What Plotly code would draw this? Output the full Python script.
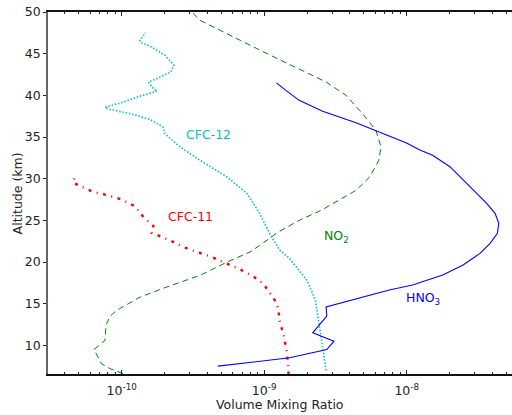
import plotly.graph_objects as go

# ---------------- data ----------------
hno3_alt = [7.5, 8.5, 9.5, 10.5, 11.5, 13.5, 14.6, 15.6, 16.64, 17.24, 18.44, 19.64, 21.04,
            22.24, 23.44, 24.64, 25.84, 27.04, 29.84, 31.44, 32.8, 33.44, 34.3, 35.8, 36.7,
            38.1, 39.4, 40.6, 41.5]
hno3_vmr = [4.73e-10, 1.51e-9, 2.75e-9, 3.09e-9, 2.19e-9, 2.75e-9, 2.72e-9, 4.41e-9, 7.55e-9,
            1.10e-8, 1.79e-8, 2.49e-8, 3.27e-8, 3.85e-8, 4.33e-8, 4.43e-8, 4.17e-8, 3.64e-8,
            2.49e-8, 2.01e-8, 1.52e-8, 1.24e-8, 9.89e-9, 6.03e-9, 4.41e-9, 2.57e-9, 1.76e-9,
            1.42e-9, 1.22e-9]

no2_alt = [6.6, 7.2, 7.8, 9.5, 10.6, 12.4, 13.5, 14.2, 15.8, 17.0, 18.4, 20.0, 21.2, 22.0,
           23.5, 25.0, 26.2, 27.2, 28.6, 30.2, 32.2, 33.8, 35.8, 37.8, 40.0, 41.6, 43.0, 44.4,
           45.6, 47.3, 49.0, 50.0]
no2_vmr = [1.02e-10, 8.3e-11, 7.2e-11, 6.4e-11, 7.64e-11, 7.76e-11, 8.28e-11, 9.23e-11, 1.35e-10,
           2.07e-10, 3.55e-10, 5.50e-10, 7.94e-10, 9.33e-10, 1.23e-9, 1.76e-9, 2.51e-9, 3.19e-9,
           4.41e-9, 5.50e-9, 6.37e-9, 6.61e-9, 6.08e-9, 4.90e-9, 3.75e-9, 2.72e-9, 1.86e-9,
           1.24e-9, 8.91e-10, 5.6e-10, 3.55e-10, 3.10e-10]

cfc12_alt = [7.0, 9.8, 12.6, 15.4, 17.8, 20.4, 21.4, 23.3, 25.8, 28.2, 30.2, 32.2, 33.8, 35.4,
             36.2, 37.1, 37.8, 38.3, 38.56, 39.2, 39.9, 40.5, 40.8, 41.6, 42.0, 42.8, 43.6, 44.8,
             45.8, 46.4, 46.6, 47.5]
cfc12_vmr = [2.72e-9, 2.57e-9, 2.44e-9, 2.29e-9, 2.00e-9, 1.51e-9, 1.29e-9, 1.10e-9, 9.33e-10,
             7.59e-10, 5.50e-10, 3.55e-10, 2.57e-10, 2.01e-10, 1.95e-10, 1.58e-10, 1.15e-10,
             8.3e-11, 7.64e-11, 1.03e-10, 1.34e-10, 1.78e-10, 1.67e-10, 1.54e-10, 1.76e-10,
             2.21e-10, 2.33e-10, 2.01e-10, 1.62e-10, 1.35e-10, 1.34e-10, 1.47e-10]

cfc11_alt = [6.5, 7.4, 9.2, 11.0, 13.0, 14.3, 15.2, 16.2, 17.4, 18.4, 19.2, 19.9, 20.6, 21.2,
             21.8, 22.6, 23.2, 23.5, 24.3, 25.4, 26.7, 27.5, 28.0, 28.4, 29.1, 29.5, 30.4]
cfc11_vmr = [1.48e-9, 1.48e-9, 1.44e-9, 1.38e-9, 1.28e-9, 1.26e-9, 1.21e-9, 1.10e-9, 9.86e-10,
             8.17e-10, 6.61e-10, 5.31e-10, 4.29e-10, 3.36e-10, 2.70e-10, 2.19e-10, 1.76e-10,
             1.62e-10, 1.67e-10, 1.42e-10, 1.24e-10, 1.00e-10, 8.05e-11, 6.31e-11, 5.13e-11,
             4.57e-11, 4.70e-11]

x_tick_vals = [1e-10, 1e-9, 1e-8]
x_tick_text = ["10<sup>-10</sup>", "10<sup>-9</sup>", "10<sup>-8</sup>"]
y_tick_vals = [10, 15, 20, 25, 30, 35, 40, 45, 50]

minor_vals = [m * 10.0 ** e for e in (-11, -10, -9, -8) for m in range(2, 10)]

# ---------------- figure ----------------
FONT = "DejaVu Sans"
FS = 12.5
fig = go.Figure()
fig.add_trace(go.Scatter(x=no2_vmr, y=no2_alt, mode="lines",
                         line=dict(color="#008000", width=1, dash="6px,4px")))
fig.add_trace(go.Scatter(x=cfc12_vmr, y=cfc12_alt, mode="lines",
                         line=dict(color="#00bfbf", width=1.6, dash="1.5px,1.8px")))
fig.add_trace(go.Scatter(x=cfc11_vmr, y=cfc11_alt, mode="lines",
                         line=dict(color="#ff0000", width=2.4, dash="3px,5.5px,1px,5.5px")))
fig.add_trace(go.Scatter(x=hno3_vmr, y=hno3_alt, mode="lines",
                         line=dict(color="#0000ff", width=1.1)))

labels = [
    ("CFC-12", -9.394, 35.36, "#00bfbf"),
    ("CFC-11", -9.514, 25.52, "#ff0000"),
    ("NO<sub>2</sub>", -8.496, 23.12, "#008000"),
    ("HNO<sub>3</sub>", -7.886, 15.68, "#0000ff"),
]
for txt, lx, ly, col in labels:
    fig.add_annotation(x=lx, y=ly, xref="x", yref="y", text=txt, showarrow=False,
                       font=dict(family=FONT, size=FS, color=col))

# axis titles placed as paper-anchored annotations for exact positioning
fig.add_annotation(x=0.5, y=-0.085, xref="paper", yref="paper", text="Volume Mixing Ratio",
                   showarrow=False, xanchor="center", yanchor="middle",
                   font=dict(family=FONT, size=FS, color="#222222"))
fig.add_annotation(x=-0.066, y=0.5, xref="paper", yref="paper", text="Altitude (km)",
                   textangle=-90, showarrow=False, xanchor="center", yanchor="middle",
                   font=dict(family=FONT, size=FS, color="#222222"))

fig.update_layout(
    width=512, height=415,
    margin=dict(l=48, r=0, t=12, b=41),
    paper_bgcolor="white", plot_bgcolor="white",
    showlegend=False,
    font=dict(family=FONT, size=FS, color="#222222"),
    xaxis=dict(
        type="log", range=[-10.517, -7.261], automargin=False,
        tickvals=x_tick_vals, ticktext=x_tick_text,
        ticks="inside", ticklen=4, tickwidth=1, tickcolor="#222",
        minor=dict(tickvals=minor_vals, ticks="inside", ticklen=2.5, tickwidth=1, tickcolor="#222"),
        showline=True, linecolor="#111", linewidth=1.5, mirror="ticks",
        showgrid=False, zeroline=False, ticklabelstandoff=4,
        tickfont=dict(size=FS),
    ),
    yaxis=dict(
        range=[6.56, 50], tickvals=y_tick_vals, automargin=False,
        ticks="outside", ticklen=3, tickwidth=1, tickcolor="#222",
        showline=True, linecolor="#666", linewidth=1.5,
        showgrid=False, zeroline=False,
        tickfont=dict(size=FS),
    ),
)

fig.write_html("out.html", config={"displayModeBar": False},
               post_script="document.body.style.margin='0px';document.body.style.overflow='hidden';")
